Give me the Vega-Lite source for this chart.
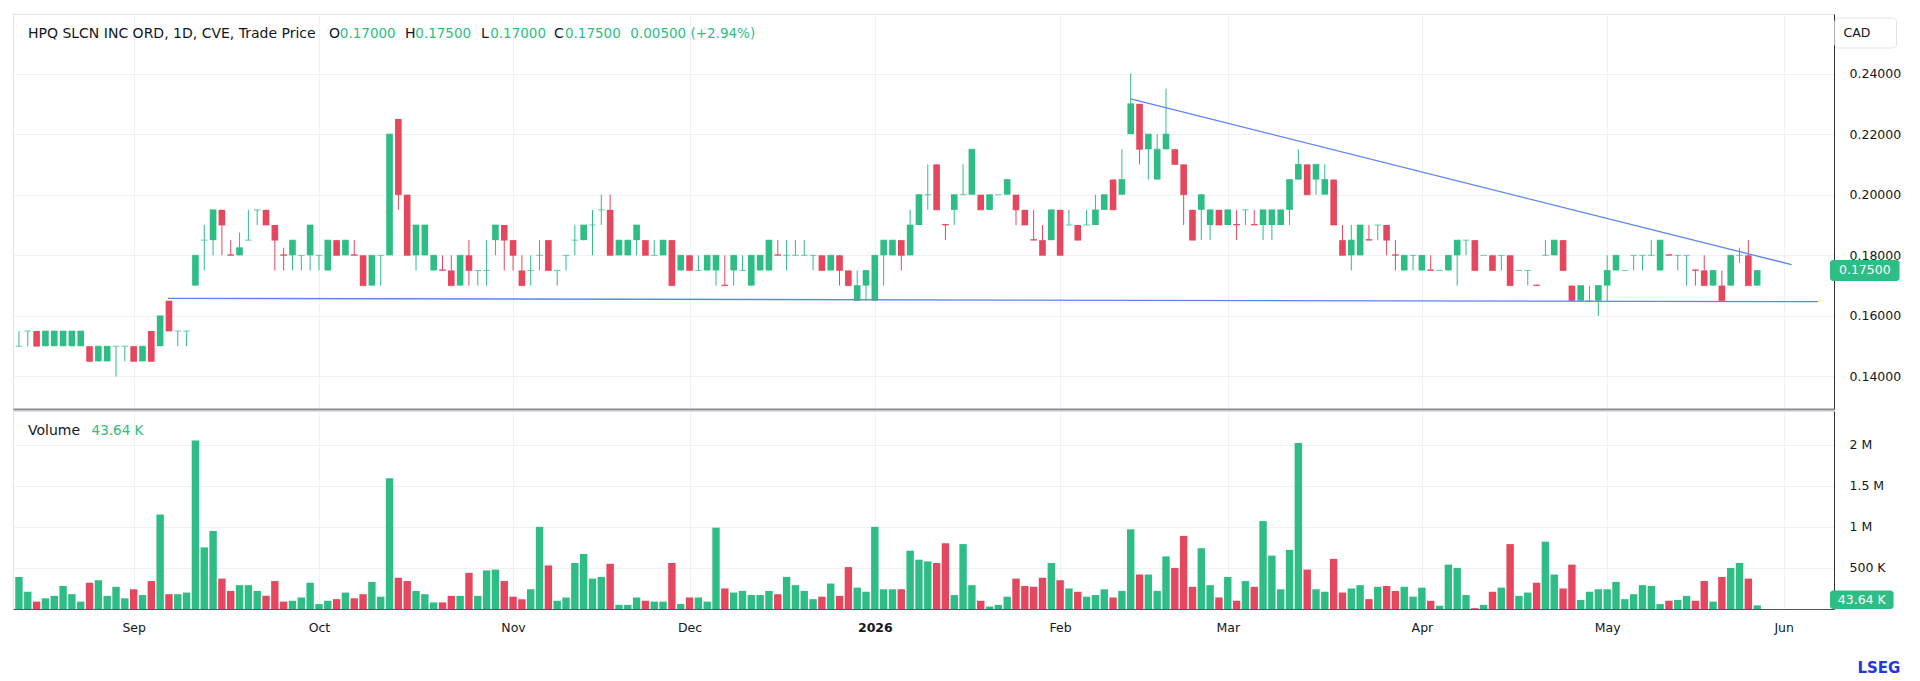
{
  "$schema": "https://vega.github.io/schema/vega-lite/v6.json",
  "background": "white",
  "padding": {"left": 12, "top": 13, "right": 0, "bottom": 0},
  "spacing": 0,
  "config": {
    "font": "DejaVu Sans",
    "view": {"stroke": "#e0e3eb"},
    "text": {"font": "DejaVu Sans"},
    "axis": {"labelFont": "DejaVu Sans", "labelFontSize": 12.5, "labelColor": "#131722", "gridColor": "#f0f1f4", "ticks": false, "title": null}
  },
  "datasets": {
    "ohlc": [
      {"d": "2025-08-13", "o": 0.15, "h": 0.155, "l": 0.15, "c": 0.15, "v": 390000},
      {"d": "2025-08-14", "o": 0.155, "h": 0.155, "l": 0.15, "c": 0.155, "v": 210000},
      {"d": "2025-08-15", "o": 0.155, "h": 0.155, "l": 0.15, "c": 0.15, "v": 90000},
      {"d": "2025-08-18", "o": 0.15, "h": 0.155, "l": 0.15, "c": 0.155, "v": 130000},
      {"d": "2025-08-19", "o": 0.15, "h": 0.155, "l": 0.15, "c": 0.155, "v": 160000},
      {"d": "2025-08-20", "o": 0.15, "h": 0.155, "l": 0.15, "c": 0.155, "v": 280000},
      {"d": "2025-08-21", "o": 0.15, "h": 0.155, "l": 0.15, "c": 0.155, "v": 180000},
      {"d": "2025-08-22", "o": 0.15, "h": 0.155, "l": 0.15, "c": 0.155, "v": 90000},
      {"d": "2025-08-25", "o": 0.15, "h": 0.15, "l": 0.145, "c": 0.145, "v": 320000},
      {"d": "2025-08-26", "o": 0.145, "h": 0.15, "l": 0.145, "c": 0.15, "v": 350000},
      {"d": "2025-08-27", "o": 0.145, "h": 0.15, "l": 0.145, "c": 0.15, "v": 160000},
      {"d": "2025-08-28", "o": 0.15, "h": 0.15, "l": 0.14, "c": 0.15, "v": 270000},
      {"d": "2025-08-29", "o": 0.15, "h": 0.15, "l": 0.145, "c": 0.15, "v": 130000},
      {"d": "2025-09-02", "o": 0.15, "h": 0.15, "l": 0.145, "c": 0.145, "v": 240000},
      {"d": "2025-09-03", "o": 0.145, "h": 0.15, "l": 0.145, "c": 0.15, "v": 170000},
      {"d": "2025-09-04", "o": 0.155, "h": 0.155, "l": 0.145, "c": 0.145, "v": 340000},
      {"d": "2025-09-05", "o": 0.15, "h": 0.16, "l": 0.15, "c": 0.16, "v": 1150000},
      {"d": "2025-09-08", "o": 0.165, "h": 0.165, "l": 0.155, "c": 0.155, "v": 180000},
      {"d": "2025-09-09", "o": 0.155, "h": 0.155, "l": 0.15, "c": 0.155, "v": 180000},
      {"d": "2025-09-10", "o": 0.155, "h": 0.155, "l": 0.15, "c": 0.155, "v": 200000},
      {"d": "2025-09-11", "o": 0.17, "h": 0.18, "l": 0.17, "c": 0.18, "v": 2050000},
      {"d": "2025-09-12", "o": 0.185, "h": 0.19, "l": 0.175, "c": 0.185, "v": 750000},
      {"d": "2025-09-15", "o": 0.185, "h": 0.195, "l": 0.18, "c": 0.195, "v": 950000},
      {"d": "2025-09-16", "o": 0.195, "h": 0.195, "l": 0.18, "c": 0.19, "v": 370000},
      {"d": "2025-09-17", "o": 0.1803, "h": 0.185, "l": 0.18, "c": 0.18, "v": 220000},
      {"d": "2025-09-18", "o": 0.18, "h": 0.1875, "l": 0.18, "c": 0.1825, "v": 290000},
      {"d": "2025-09-19", "o": 0.185, "h": 0.195, "l": 0.185, "c": 0.185, "v": 290000},
      {"d": "2025-09-22", "o": 0.195, "h": 0.195, "l": 0.19, "c": 0.195, "v": 220000},
      {"d": "2025-09-23", "o": 0.195, "h": 0.195, "l": 0.19, "c": 0.19, "v": 160000},
      {"d": "2025-09-24", "o": 0.19, "h": 0.19, "l": 0.175, "c": 0.185, "v": 340000},
      {"d": "2025-09-25", "o": 0.1803, "h": 0.1825, "l": 0.175, "c": 0.18, "v": 90000},
      {"d": "2025-09-26", "o": 0.18, "h": 0.185, "l": 0.175, "c": 0.185, "v": 100000},
      {"d": "2025-09-29", "o": 0.18, "h": 0.18, "l": 0.175, "c": 0.18, "v": 140000},
      {"d": "2025-09-30", "o": 0.18, "h": 0.19, "l": 0.175, "c": 0.19, "v": 320000},
      {"d": "2025-10-01", "o": 0.18, "h": 0.18, "l": 0.175, "c": 0.18, "v": 60000},
      {"d": "2025-10-02", "o": 0.175, "h": 0.185, "l": 0.175, "c": 0.185, "v": 100000},
      {"d": "2025-10-03", "o": 0.185, "h": 0.185, "l": 0.18, "c": 0.18, "v": 120000},
      {"d": "2025-10-06", "o": 0.18, "h": 0.185, "l": 0.18, "c": 0.185, "v": 200000},
      {"d": "2025-10-07", "o": 0.1803, "h": 0.185, "l": 0.18, "c": 0.18, "v": 130000},
      {"d": "2025-10-08", "o": 0.18, "h": 0.18, "l": 0.17, "c": 0.17, "v": 180000},
      {"d": "2025-10-09", "o": 0.17, "h": 0.18, "l": 0.17, "c": 0.18, "v": 330000},
      {"d": "2025-10-10", "o": 0.18, "h": 0.18, "l": 0.17, "c": 0.18, "v": 150000},
      {"d": "2025-10-14", "o": 0.18, "h": 0.22, "l": 0.18, "c": 0.22, "v": 1590000},
      {"d": "2025-10-15", "o": 0.225, "h": 0.225, "l": 0.195, "c": 0.2, "v": 380000},
      {"d": "2025-10-16", "o": 0.2, "h": 0.2, "l": 0.18, "c": 0.18, "v": 340000},
      {"d": "2025-10-17", "o": 0.18, "h": 0.19, "l": 0.175, "c": 0.19, "v": 220000},
      {"d": "2025-10-20", "o": 0.18, "h": 0.19, "l": 0.18, "c": 0.19, "v": 180000},
      {"d": "2025-10-21", "o": 0.175, "h": 0.18, "l": 0.175, "c": 0.18, "v": 80000},
      {"d": "2025-10-22", "o": 0.1753, "h": 0.18, "l": 0.175, "c": 0.175, "v": 80000},
      {"d": "2025-10-23", "o": 0.175, "h": 0.18, "l": 0.17, "c": 0.17, "v": 160000},
      {"d": "2025-10-24", "o": 0.17, "h": 0.18, "l": 0.17, "c": 0.18, "v": 160000},
      {"d": "2025-10-27", "o": 0.18, "h": 0.185, "l": 0.17, "c": 0.175, "v": 440000},
      {"d": "2025-10-28", "o": 0.175, "h": 0.175, "l": 0.17, "c": 0.175, "v": 160000},
      {"d": "2025-10-29", "o": 0.175, "h": 0.185, "l": 0.17, "c": 0.175, "v": 470000},
      {"d": "2025-10-30", "o": 0.185, "h": 0.19, "l": 0.18, "c": 0.19, "v": 480000},
      {"d": "2025-10-31", "o": 0.19, "h": 0.19, "l": 0.175, "c": 0.185, "v": 340000},
      {"d": "2025-11-03", "o": 0.185, "h": 0.185, "l": 0.175, "c": 0.18, "v": 150000},
      {"d": "2025-11-04", "o": 0.175, "h": 0.18, "l": 0.17, "c": 0.17, "v": 120000},
      {"d": "2025-11-05", "o": 0.175, "h": 0.18, "l": 0.17, "c": 0.175, "v": 240000},
      {"d": "2025-11-06", "o": 0.18, "h": 0.185, "l": 0.175, "c": 0.18, "v": 1000000},
      {"d": "2025-11-07", "o": 0.185, "h": 0.185, "l": 0.175, "c": 0.175, "v": 530000},
      {"d": "2025-11-10", "o": 0.175, "h": 0.175, "l": 0.17, "c": 0.175, "v": 100000},
      {"d": "2025-11-11", "o": 0.18, "h": 0.18, "l": 0.175, "c": 0.18, "v": 140000},
      {"d": "2025-11-12", "o": 0.185, "h": 0.19, "l": 0.18, "c": 0.185, "v": 560000},
      {"d": "2025-11-13", "o": 0.185, "h": 0.19, "l": 0.185, "c": 0.19, "v": 670000},
      {"d": "2025-11-14", "o": 0.19, "h": 0.195, "l": 0.18, "c": 0.19, "v": 370000},
      {"d": "2025-11-17", "o": 0.195, "h": 0.2, "l": 0.19, "c": 0.195, "v": 390000},
      {"d": "2025-11-18", "o": 0.195, "h": 0.2, "l": 0.18, "c": 0.18, "v": 550000},
      {"d": "2025-11-19", "o": 0.18, "h": 0.185, "l": 0.18, "c": 0.185, "v": 50000},
      {"d": "2025-11-20", "o": 0.18, "h": 0.185, "l": 0.18, "c": 0.185, "v": 50000},
      {"d": "2025-11-21", "o": 0.185, "h": 0.19, "l": 0.18, "c": 0.19, "v": 140000},
      {"d": "2025-11-24", "o": 0.185, "h": 0.185, "l": 0.18, "c": 0.18, "v": 100000},
      {"d": "2025-11-25", "o": 0.18, "h": 0.185, "l": 0.18, "c": 0.18, "v": 90000},
      {"d": "2025-11-26", "o": 0.18, "h": 0.185, "l": 0.18, "c": 0.185, "v": 90000},
      {"d": "2025-11-27", "o": 0.185, "h": 0.185, "l": 0.17, "c": 0.17, "v": 560000},
      {"d": "2025-11-28", "o": 0.175, "h": 0.18, "l": 0.175, "c": 0.18, "v": 60000},
      {"d": "2025-12-01", "o": 0.18, "h": 0.18, "l": 0.175, "c": 0.175, "v": 140000},
      {"d": "2025-12-02", "o": 0.175, "h": 0.18, "l": 0.175, "c": 0.175, "v": 140000},
      {"d": "2025-12-03", "o": 0.175, "h": 0.18, "l": 0.175, "c": 0.18, "v": 90000},
      {"d": "2025-12-04", "o": 0.175, "h": 0.18, "l": 0.17, "c": 0.18, "v": 990000},
      {"d": "2025-12-05", "o": 0.1703, "h": 0.18, "l": 0.17, "c": 0.17, "v": 250000},
      {"d": "2025-12-08", "o": 0.175, "h": 0.18, "l": 0.17, "c": 0.18, "v": 200000},
      {"d": "2025-12-09", "o": 0.175, "h": 0.18, "l": 0.175, "c": 0.175, "v": 220000},
      {"d": "2025-12-10", "o": 0.17, "h": 0.18, "l": 0.17, "c": 0.18, "v": 170000},
      {"d": "2025-12-11", "o": 0.175, "h": 0.18, "l": 0.175, "c": 0.18, "v": 170000},
      {"d": "2025-12-12", "o": 0.175, "h": 0.185, "l": 0.175, "c": 0.185, "v": 220000},
      {"d": "2025-12-15", "o": 0.1803, "h": 0.185, "l": 0.18, "c": 0.18, "v": 180000},
      {"d": "2025-12-16", "o": 0.18, "h": 0.185, "l": 0.175, "c": 0.18, "v": 390000},
      {"d": "2025-12-17", "o": 0.18, "h": 0.185, "l": 0.18, "c": 0.18, "v": 290000},
      {"d": "2025-12-18", "o": 0.18, "h": 0.185, "l": 0.18, "c": 0.18, "v": 220000},
      {"d": "2025-12-19", "o": 0.18, "h": 0.18, "l": 0.175, "c": 0.18, "v": 120000},
      {"d": "2025-12-22", "o": 0.18, "h": 0.18, "l": 0.175, "c": 0.175, "v": 150000},
      {"d": "2025-12-23", "o": 0.175, "h": 0.18, "l": 0.175, "c": 0.18, "v": 310000},
      {"d": "2025-12-24", "o": 0.18, "h": 0.18, "l": 0.17, "c": 0.175, "v": 160000},
      {"d": "2025-12-29", "o": 0.175, "h": 0.175, "l": 0.17, "c": 0.17, "v": 510000},
      {"d": "2025-12-30", "o": 0.165, "h": 0.175, "l": 0.165, "c": 0.17, "v": 260000},
      {"d": "2025-12-31", "o": 0.17, "h": 0.175, "l": 0.165, "c": 0.175, "v": 210000},
      {"d": "2026-01-02", "o": 0.165, "h": 0.18, "l": 0.165, "c": 0.18, "v": 1000000},
      {"d": "2026-01-05", "o": 0.18, "h": 0.185, "l": 0.17, "c": 0.185, "v": 240000},
      {"d": "2026-01-06", "o": 0.18, "h": 0.185, "l": 0.18, "c": 0.185, "v": 240000},
      {"d": "2026-01-07", "o": 0.185, "h": 0.185, "l": 0.175, "c": 0.18, "v": 240000},
      {"d": "2026-01-08", "o": 0.18, "h": 0.195, "l": 0.18, "c": 0.19, "v": 710000},
      {"d": "2026-01-09", "o": 0.19, "h": 0.2, "l": 0.19, "c": 0.2, "v": 600000},
      {"d": "2026-01-12", "o": 0.2, "h": 0.21, "l": 0.195, "c": 0.2, "v": 580000},
      {"d": "2026-01-13", "o": 0.21, "h": 0.21, "l": 0.195, "c": 0.195, "v": 560000},
      {"d": "2026-01-14", "o": 0.1903, "h": 0.1903, "l": 0.185, "c": 0.19, "v": 800000},
      {"d": "2026-01-15", "o": 0.195, "h": 0.2, "l": 0.19, "c": 0.2, "v": 170000},
      {"d": "2026-01-16", "o": 0.2, "h": 0.21, "l": 0.2, "c": 0.2, "v": 790000},
      {"d": "2026-01-19", "o": 0.2, "h": 0.215, "l": 0.2, "c": 0.215, "v": 290000},
      {"d": "2026-01-20", "o": 0.2, "h": 0.2, "l": 0.195, "c": 0.195, "v": 100000},
      {"d": "2026-01-21", "o": 0.195, "h": 0.2, "l": 0.195, "c": 0.2, "v": 30000},
      {"d": "2026-01-22", "o": 0.2, "h": 0.2, "l": 0.2, "c": 0.2, "v": 50000},
      {"d": "2026-01-23", "o": 0.2, "h": 0.205, "l": 0.2, "c": 0.205, "v": 150000},
      {"d": "2026-01-26", "o": 0.2, "h": 0.2, "l": 0.19, "c": 0.195, "v": 370000},
      {"d": "2026-01-27", "o": 0.195, "h": 0.195, "l": 0.19, "c": 0.19, "v": 280000},
      {"d": "2026-01-28", "o": 0.1853, "h": 0.195, "l": 0.185, "c": 0.185, "v": 270000},
      {"d": "2026-01-29", "o": 0.185, "h": 0.19, "l": 0.18, "c": 0.18, "v": 380000},
      {"d": "2026-01-30", "o": 0.185, "h": 0.195, "l": 0.185, "c": 0.195, "v": 560000},
      {"d": "2026-02-02", "o": 0.195, "h": 0.195, "l": 0.18, "c": 0.18, "v": 350000},
      {"d": "2026-02-03", "o": 0.19, "h": 0.195, "l": 0.19, "c": 0.19, "v": 250000},
      {"d": "2026-02-04", "o": 0.19, "h": 0.19, "l": 0.185, "c": 0.185, "v": 210000},
      {"d": "2026-02-05", "o": 0.19, "h": 0.195, "l": 0.19, "c": 0.19, "v": 150000},
      {"d": "2026-02-06", "o": 0.19, "h": 0.2, "l": 0.19, "c": 0.195, "v": 170000},
      {"d": "2026-02-09", "o": 0.195, "h": 0.2, "l": 0.195, "c": 0.2, "v": 240000},
      {"d": "2026-02-10", "o": 0.205, "h": 0.205, "l": 0.195, "c": 0.195, "v": 140000},
      {"d": "2026-02-11", "o": 0.2, "h": 0.215, "l": 0.2, "c": 0.205, "v": 220000},
      {"d": "2026-02-12", "o": 0.22, "h": 0.24, "l": 0.22, "c": 0.23, "v": 970000},
      {"d": "2026-02-13", "o": 0.23, "h": 0.23, "l": 0.21, "c": 0.215, "v": 420000},
      {"d": "2026-02-17", "o": 0.215, "h": 0.22, "l": 0.205, "c": 0.22, "v": 420000},
      {"d": "2026-02-18", "o": 0.205, "h": 0.22, "l": 0.205, "c": 0.215, "v": 220000},
      {"d": "2026-02-19", "o": 0.215, "h": 0.235, "l": 0.215, "c": 0.22, "v": 640000},
      {"d": "2026-02-20", "o": 0.215, "h": 0.215, "l": 0.21, "c": 0.21, "v": 500000},
      {"d": "2026-02-23", "o": 0.21, "h": 0.21, "l": 0.19, "c": 0.2, "v": 890000},
      {"d": "2026-02-24", "o": 0.195, "h": 0.195, "l": 0.185, "c": 0.185, "v": 270000},
      {"d": "2026-02-25", "o": 0.195, "h": 0.2, "l": 0.185, "c": 0.2, "v": 740000},
      {"d": "2026-02-26", "o": 0.19, "h": 0.195, "l": 0.185, "c": 0.195, "v": 290000},
      {"d": "2026-02-27", "o": 0.195, "h": 0.195, "l": 0.19, "c": 0.19, "v": 140000},
      {"d": "2026-03-02", "o": 0.19, "h": 0.195, "l": 0.19, "c": 0.195, "v": 390000},
      {"d": "2026-03-03", "o": 0.1903, "h": 0.195, "l": 0.185, "c": 0.19, "v": 100000},
      {"d": "2026-03-04", "o": 0.195, "h": 0.195, "l": 0.19, "c": 0.195, "v": 340000},
      {"d": "2026-03-05", "o": 0.1903, "h": 0.195, "l": 0.19, "c": 0.19, "v": 270000},
      {"d": "2026-03-06", "o": 0.19, "h": 0.195, "l": 0.185, "c": 0.195, "v": 1070000},
      {"d": "2026-03-09", "o": 0.19, "h": 0.195, "l": 0.185, "c": 0.195, "v": 650000},
      {"d": "2026-03-10", "o": 0.19, "h": 0.195, "l": 0.19, "c": 0.195, "v": 240000},
      {"d": "2026-03-11", "o": 0.195, "h": 0.205, "l": 0.19, "c": 0.205, "v": 720000},
      {"d": "2026-03-12", "o": 0.205, "h": 0.215, "l": 0.205, "c": 0.21, "v": 2020000},
      {"d": "2026-03-13", "o": 0.21, "h": 0.21, "l": 0.2, "c": 0.2, "v": 480000},
      {"d": "2026-03-16", "o": 0.205, "h": 0.21, "l": 0.2, "c": 0.21, "v": 240000},
      {"d": "2026-03-17", "o": 0.2, "h": 0.21, "l": 0.2, "c": 0.205, "v": 210000},
      {"d": "2026-03-18", "o": 0.205, "h": 0.205, "l": 0.19, "c": 0.19, "v": 610000},
      {"d": "2026-03-19", "o": 0.185, "h": 0.19, "l": 0.18, "c": 0.18, "v": 200000},
      {"d": "2026-03-20", "o": 0.18, "h": 0.19, "l": 0.175, "c": 0.185, "v": 250000},
      {"d": "2026-03-23", "o": 0.18, "h": 0.19, "l": 0.18, "c": 0.19, "v": 290000},
      {"d": "2026-03-24", "o": 0.1853, "h": 0.19, "l": 0.185, "c": 0.185, "v": 120000},
      {"d": "2026-03-25", "o": 0.19, "h": 0.19, "l": 0.185, "c": 0.19, "v": 270000},
      {"d": "2026-03-26", "o": 0.19, "h": 0.19, "l": 0.18, "c": 0.185, "v": 280000},
      {"d": "2026-03-27", "o": 0.1803, "h": 0.185, "l": 0.175, "c": 0.18, "v": 220000},
      {"d": "2026-03-30", "o": 0.175, "h": 0.18, "l": 0.175, "c": 0.18, "v": 270000},
      {"d": "2026-03-31", "o": 0.18, "h": 0.18, "l": 0.175, "c": 0.18, "v": 150000},
      {"d": "2026-04-01", "o": 0.175, "h": 0.18, "l": 0.175, "c": 0.18, "v": 260000},
      {"d": "2026-04-02", "o": 0.1753, "h": 0.18, "l": 0.175, "c": 0.175, "v": 100000},
      {"d": "2026-04-06", "o": 0.175, "h": 0.175, "l": 0.175, "c": 0.175, "v": 40000},
      {"d": "2026-04-07", "o": 0.175, "h": 0.18, "l": 0.175, "c": 0.18, "v": 540000},
      {"d": "2026-04-08", "o": 0.18, "h": 0.185, "l": 0.17, "c": 0.185, "v": 500000},
      {"d": "2026-04-09", "o": 0.185, "h": 0.185, "l": 0.18, "c": 0.185, "v": 170000},
      {"d": "2026-04-10", "o": 0.185, "h": 0.185, "l": 0.175, "c": 0.175, "v": 10000},
      {"d": "2026-04-13", "o": 0.18, "h": 0.18, "l": 0.18, "c": 0.18, "v": 50000},
      {"d": "2026-04-14", "o": 0.18, "h": 0.18, "l": 0.175, "c": 0.175, "v": 210000},
      {"d": "2026-04-15", "o": 0.18, "h": 0.18, "l": 0.175, "c": 0.18, "v": 260000},
      {"d": "2026-04-16", "o": 0.18, "h": 0.18, "l": 0.17, "c": 0.17, "v": 790000},
      {"d": "2026-04-17", "o": 0.175, "h": 0.175, "l": 0.175, "c": 0.175, "v": 160000},
      {"d": "2026-04-20", "o": 0.175, "h": 0.175, "l": 0.17, "c": 0.175, "v": 200000},
      {"d": "2026-04-21", "o": 0.1703, "h": 0.1703, "l": 0.17, "c": 0.17, "v": 320000},
      {"d": "2026-04-22", "o": 0.18, "h": 0.185, "l": 0.18, "c": 0.18, "v": 820000},
      {"d": "2026-04-23", "o": 0.18, "h": 0.185, "l": 0.18, "c": 0.185, "v": 420000},
      {"d": "2026-04-24", "o": 0.185, "h": 0.185, "l": 0.175, "c": 0.175, "v": 250000},
      {"d": "2026-04-27", "o": 0.17, "h": 0.17, "l": 0.165, "c": 0.165, "v": 540000},
      {"d": "2026-04-28", "o": 0.165, "h": 0.17, "l": 0.165, "c": 0.17, "v": 110000},
      {"d": "2026-04-29", "o": 0.165, "h": 0.17, "l": 0.165, "c": 0.165, "v": 210000},
      {"d": "2026-04-30", "o": 0.165, "h": 0.17, "l": 0.16, "c": 0.17, "v": 240000},
      {"d": "2026-05-01", "o": 0.17, "h": 0.18, "l": 0.165, "c": 0.175, "v": 240000},
      {"d": "2026-05-04", "o": 0.175, "h": 0.18, "l": 0.175, "c": 0.18, "v": 330000},
      {"d": "2026-05-05", "o": 0.175, "h": 0.175, "l": 0.175, "c": 0.175, "v": 120000},
      {"d": "2026-05-06", "o": 0.18, "h": 0.18, "l": 0.175, "c": 0.18, "v": 180000},
      {"d": "2026-05-07", "o": 0.18, "h": 0.18, "l": 0.175, "c": 0.18, "v": 290000},
      {"d": "2026-05-08", "o": 0.18, "h": 0.185, "l": 0.18, "c": 0.18, "v": 280000},
      {"d": "2026-05-11", "o": 0.175, "h": 0.185, "l": 0.175, "c": 0.185, "v": 60000},
      {"d": "2026-05-12", "o": 0.1803, "h": 0.1803, "l": 0.18, "c": 0.18, "v": 100000},
      {"d": "2026-05-13", "o": 0.18, "h": 0.18, "l": 0.175, "c": 0.18, "v": 110000},
      {"d": "2026-05-14", "o": 0.18, "h": 0.18, "l": 0.17, "c": 0.18, "v": 160000},
      {"d": "2026-05-15", "o": 0.1753, "h": 0.1753, "l": 0.17, "c": 0.175, "v": 100000},
      {"d": "2026-05-19", "o": 0.175, "h": 0.18, "l": 0.17, "c": 0.17, "v": 340000},
      {"d": "2026-05-20", "o": 0.17, "h": 0.175, "l": 0.17, "c": 0.175, "v": 90000},
      {"d": "2026-05-21", "o": 0.17, "h": 0.175, "l": 0.165, "c": 0.165, "v": 390000},
      {"d": "2026-05-22", "o": 0.17, "h": 0.18, "l": 0.17, "c": 0.18, "v": 500000},
      {"d": "2026-05-25", "o": 0.18, "h": 0.1825, "l": 0.1775, "c": 0.18, "v": 560000},
      {"d": "2026-05-26", "o": 0.18, "h": 0.185, "l": 0.17, "c": 0.17, "v": 370000},
      {"d": "2026-05-27", "o": 0.17, "h": 0.175, "l": 0.17, "c": 0.175, "v": 43640}
    ],
    "lines": [
      {"id": "support", "n": 17.9, "p": 0.1658},
      {"id": "support", "n": 204.9, "p": 0.1647},
      {"id": "resistance", "n": 127, "p": 0.2316},
      {"id": "resistance", "n": 201.9, "p": 0.1769}
    ]
  },
  "vconcat": [
    {
      "width": 1821,
      "height": 395,
      "data": {"name": "ohlc"},
      "transform": [{"window": [{"op": "row_number", "as": "n"}], "sort": [{"field": "d"}]}],
      "layer": [
        {
          "mark": {"type": "rule", "strokeWidth": 1, "clip": true},
          "encoding": {
            "x": {"field": "n", "type": "quantitative", "title": null,
              "scale": {"domain": [0.891, 206.14], "nice": false, "zero": false},
              "axis": {"values": [14, 35, 57, 77, 98, 119, 138, 160, 181, 201], "labels": false, "grid": true, "domainColor": "#8a8c94", "domainWidth": 2}},
            "y": {"field": "l", "type": "quantitative", "title": null,
              "scale": {"domain": [0.12927, 0.25964], "nice": false, "zero": false},
              "axis": {"orient": "right", "values": [0.14, 0.16, 0.18, 0.2, 0.22, 0.24], "format": ".5f", "labelPadding": 15, "domainColor": "#2a2e39", "grid": true}},
            "y2": {"field": "h"},
            "color": {"condition": {"test": "datum.c < datum.o", "value": "#e5475f"}, "value": "#2ebd85"}
          }
        },
        {
          "mark": {"type": "bar", "size": 6.6, "clip": true},
          "encoding": {
            "x": {"field": "n", "type": "quantitative", "title": null},
            "y": {"field": "o", "type": "quantitative", "title": null},
            "y2": {"field": "c"},
            "color": {"condition": {"test": "datum.c < datum.o", "value": "#e5475f"}, "value": "#2ebd85"}
          }
        },
        {
          "mark": {"type": "tick", "orient": "horizontal", "size": 6.6, "thickness": 1, "clip": true},
          "encoding": {
            "x": {"field": "n", "type": "quantitative", "title": null},
            "y": {"field": "c", "type": "quantitative", "title": null},
            "color": {"condition": {"test": "datum.c < datum.o", "value": "#e5475f"}, "value": "#2ebd85"}
          }
        },
        {
          "data": {"name": "lines"},
          "mark": {"type": "line", "color": "#5b86f0", "strokeWidth": 1.3, "clip": true},
          "encoding": {
            "x": {"field": "n", "type": "quantitative", "title": null},
            "y": {"field": "p", "type": "quantitative", "title": null},
            "detail": {"field": "id"}
          }
        },
        {
          "data": {"values": [{}]},
          "mark": {"type": "text", "align": "left", "baseline": "middle", "fontSize": 14, "color": "#131722", "text": "HPQ SLCN INC ORD, 1D, CVE, Trade Price"},
          "encoding": {"x": {"datum": 2.02}, "y": {"datum": 0.25294}}
        },
        {
          "data": {"values": [{}]},
          "mark": {"type": "text", "align": "left", "baseline": "middle", "fontSize": 14, "color": "#131722", "text": "O"},
          "encoding": {"x": {"datum": 36.13}, "y": {"datum": 0.25294}}
        },
        {
          "data": {"values": [{}]},
          "mark": {"type": "text", "align": "left", "baseline": "middle", "fontSize": 13.5, "color": "#2ebd85", "text": "0.17000"},
          "encoding": {"x": {"datum": 37.37}, "y": {"datum": 0.25294}}
        },
        {
          "data": {"values": [{}]},
          "mark": {"type": "text", "align": "left", "baseline": "middle", "fontSize": 14, "color": "#131722", "text": "H"},
          "encoding": {"x": {"datum": 44.74}, "y": {"datum": 0.25294}}
        },
        {
          "data": {"values": [{}]},
          "mark": {"type": "text", "align": "left", "baseline": "middle", "fontSize": 13.5, "color": "#2ebd85", "text": "0.17500"},
          "encoding": {"x": {"datum": 45.92}, "y": {"datum": 0.25294}}
        },
        {
          "data": {"values": [{}]},
          "mark": {"type": "text", "align": "left", "baseline": "middle", "fontSize": 14, "color": "#131722", "text": "L"},
          "encoding": {"x": {"datum": 53.37}, "y": {"datum": 0.25294}}
        },
        {
          "data": {"values": [{}]},
          "mark": {"type": "text", "align": "left", "baseline": "middle", "fontSize": 13.5, "color": "#2ebd85", "text": "0.17000"},
          "encoding": {"x": {"datum": 54.41}, "y": {"datum": 0.25294}}
        },
        {
          "data": {"values": [{}]},
          "mark": {"type": "text", "align": "left", "baseline": "middle", "fontSize": 14, "color": "#131722", "text": "C"},
          "encoding": {"x": {"datum": 61.64}, "y": {"datum": 0.25294}}
        },
        {
          "data": {"values": [{}]},
          "mark": {"type": "text", "align": "left", "baseline": "middle", "fontSize": 13.5, "color": "#2ebd85", "text": "0.17500"},
          "encoding": {"x": {"datum": 62.88}, "y": {"datum": 0.25294}}
        },
        {
          "data": {"values": [{}]},
          "mark": {"type": "text", "align": "left", "baseline": "middle", "fontSize": 13.5, "color": "#2ebd85", "text": "0.00500 (+2.94%)"},
          "encoding": {"x": {"datum": 70.29}, "y": {"datum": 0.25294}}
        },
        {
          "data": {"values": [{}]},
          "mark": {"type": "rect", "fill": "white", "stroke": "#e0e3eb", "cornerRadius": 4, "clip": false},
          "encoding": {"x": {"datum": 206.8}, "x2": {"datum": 213.8}, "y": {"datum": 0.25832}, "y2": {"datum": 0.24842}}
        },
        {
          "data": {"values": [{}]},
          "mark": {"type": "text", "align": "center", "baseline": "middle", "fontSize": 12.5, "color": "#131722", "text": "CAD", "clip": false},
          "encoding": {"x": {"datum": 209.3}, "y": {"datum": 0.25337}}
        },
        {
          "data": {"values": [{}]},
          "mark": {"type": "rect", "color": "#2ebd85", "cornerRadius": 3, "clip": false},
          "encoding": {"x": {"datum": 206.25}, "x2": {"datum": 214.14}, "y": {"datum": 0.17153}, "y2": {"datum": 0.17847}}
        },
        {
          "data": {"values": [{}]},
          "mark": {"type": "text", "align": "center", "baseline": "middle", "fontSize": 12.5, "color": "white", "text": "0.17500", "clip": false},
          "encoding": {"x": {"datum": 210.2}, "y": {"datum": 0.175}}
        }
      ]
    },
    {
      "width": 1821,
      "height": 198,
      "data": {"name": "ohlc"},
      "transform": [{"window": [{"op": "row_number", "as": "n"}], "sort": [{"field": "d"}]}],
      "layer": [
        {
          "mark": {"type": "bar", "size": 7.4, "clip": true},
          "encoding": {
            "x": {"field": "n", "type": "quantitative", "title": null,
              "scale": {"domain": [0.891, 206.14], "nice": false, "zero": false},
              "axis": {"values": [14, 35, 57, 77, 98, 119, 138, 160, 181, 201], "grid": true, "domainColor": "#50535e", "labelPadding": 12,
                "labelExpr": "['Sep','Oct','Nov','Dec','2026','Feb','Mar','Apr','May','Jun'][indexof([14,35,57,77,98,119,138,160,181,201], datum.value)]",
                "labelFontWeight": {"condition": {"test": "datum.value == 98", "value": "bold"}, "value": "normal"}}},
            "y": {"field": "v", "type": "quantitative", "title": null,
              "scale": {"domain": [0, 2410000], "nice": false},
              "axis": {"orient": "right", "values": [500000, 1000000, 1500000, 2000000], "labelPadding": 15, "domainColor": "#2a2e39", "grid": true,
                "labelExpr": "datum.value >= 1000000 ? (datum.value / 1000000) + ' M' : (datum.value / 1000) + ' K'"}},
            "color": {"condition": {"test": "datum.c < datum.o", "value": "#e5475f"}, "value": "#2ebd85"}
          }
        },
        {
          "data": {"values": [{}]},
          "mark": {"type": "text", "align": "left", "baseline": "middle", "fontSize": 14, "color": "#131722", "text": "Volume"},
          "encoding": {"x": {"datum": 2.02}, "y": {"datum": 2167000}}
        },
        {
          "data": {"values": [{}]},
          "mark": {"type": "text", "align": "left", "baseline": "middle", "fontSize": 13.5, "color": "#2ebd85", "text": "43.64 K"},
          "encoding": {"x": {"datum": 9.23}, "y": {"datum": 2167000}}
        },
        {
          "data": {"values": [{}]},
          "mark": {"type": "rect", "color": "#2ebd85", "cornerRadius": 3, "clip": false},
          "encoding": {"x": {"datum": 206.25}, "x2": {"datum": 213.46}, "y": {"datum": 225000}, "y2": {"datum": 0}}
        },
        {
          "data": {"values": [{}]},
          "mark": {"type": "text", "align": "center", "baseline": "middle", "fontSize": 12.5, "color": "white", "text": "43.64 K", "clip": false},
          "encoding": {"x": {"datum": 209.85}, "y": {"datum": 112000}}
        },
        {
          "data": {"values": [{}]},
          "mark": {"type": "text", "align": "center", "baseline": "middle", "fontSize": 15, "fontWeight": "bold", "color": "#2337e0", "text": "LSEG", "clip": false},
          "encoding": {"x": {"datum": 211.8}, "y": {"datum": -718000}}
        }
      ]
    }
  ]
}
